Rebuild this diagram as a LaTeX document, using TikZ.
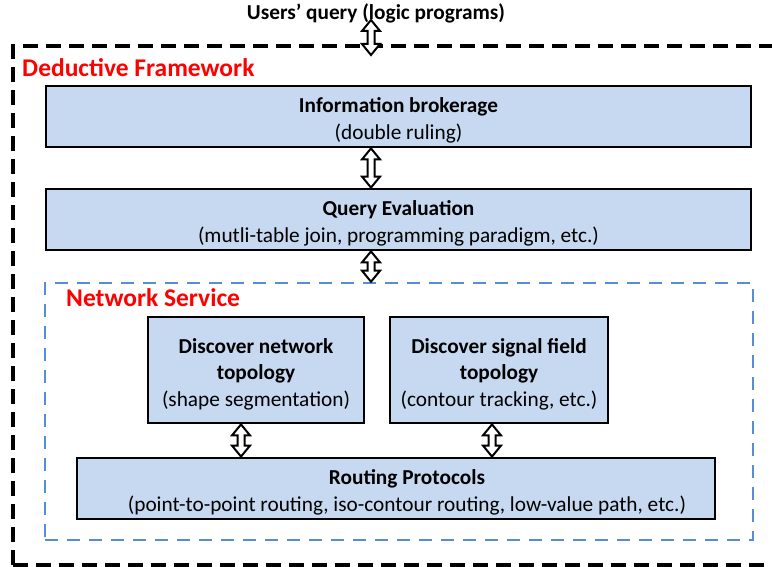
\documentclass[tikz,border=0pt]{standalone}
\usepackage{fontspec}
\setmainfont{Carlito}
\usetikzlibrary{calc}
\definecolor{boxfill}{HTML}{C6D9F1}
\definecolor{nsblue}{HTML}{558ED5}
\definecolor{labelred}{HTML}{FF0000}
\tikzset{
  layerbox/.style={draw=black, line width=2.8pt, fill=boxfill,
    inner sep=0pt, font=\fontsize{21.3}{26.8}\selectfont},
  framelabel/.style={text=labelred, font=\bfseries\fontsize{25.5}{30}\selectfont, anchor=west, inner sep=0pt},
  openarrow/.style={draw=black, fill=white, line width=2pt, line join=miter},
}
% centred lines of a box, set a little below the middle
\newcommand\boxlines[1]{\raisebox{-4.5pt}[\height][\depth]{\begin{tabular}{@{}c@{}}#1\end{tabular}}}
% hollow double-headed arrow at abscissa #1 between the points #2 (top) and #3 (bottom)
\newcommand\hollowarrow[3]{%
  \draw[openarrow] let \p1=(#2), \p2=(#3) in
    (#1pt,\y1) -- (#1pt+9pt,\y1-11pt) -- (#1pt+3.5pt,\y1-11pt) -- (#1pt+3.5pt,\y2+11pt)
    -- (#1pt+9pt,\y2+11pt) -- (#1pt,\y2) -- (#1pt-9pt,\y2+11pt) -- (#1pt-3.5pt,\y2+11pt)
    -- (#1pt-3.5pt,\y1-11pt) -- (#1pt-9pt,\y1-11pt) -- cycle;}
\begin{document}
\begin{tikzpicture}[x=1pt,y=-1pt]
\useasboundingbox (0,0) rectangle (772,567);

% outer deductive framework frame
\draw[black, line width=3.4pt, dash pattern=on 15pt off 8pt] (13,565) -- (13,46) -- (790,46);
\draw[black, line width=3.4pt, dash pattern=on 15pt off 8pt] (13,565) -- (790,565);
\node[framelabel] (dfl) at (22,68) {Deductive Framework};

% user query
\node[font=\bfseries\fontsize{21.3}{25}\selectfont, inner sep=0pt] (query) at (376,13) {Users’ query (logic programs)};
\coordinate (qtop) at (371,20);
\coordinate (qbot) at (371,55);

% upper layers
\node[layerbox, minimum width=705pt, minimum height=61pt] (ib) at (398.5,116.5)
  {\boxlines{\textbf{Information brokerage}\\(double ruling)}};
\node[layerbox, minimum width=705pt, minimum height=61pt] (qe) at (398.5,219.5)
  {\boxlines{\textbf{Query Evaluation}\\(mutli-table join, programming paradigm, etc.)}};

% network service frame
\node[draw=nsblue, line width=2.6pt, dash pattern=on 13pt off 9pt, minimum width=708pt,
  minimum height=257pt, inner sep=0pt] (ns) at (399,411.5) {};
\node[framelabel] (nsl) at (66,298) {Network Service};

\node[layerbox, minimum width=216pt, minimum height=106pt] (dnt) at (256,370)
  {\boxlines{\textbf{Discover network}\\\textbf{topology}\\(shape segmentation)}};
\node[layerbox, minimum width=218pt, minimum height=106pt] (dsf) at (499,370)
  {\boxlines{\textbf{Discover signal field}\\\textbf{topology}\\(contour tracking, etc.)}};
\node[layerbox, minimum width=638pt, minimum height=61pt] (rp) at (396,488.5)
  {\hspace*{22pt}\boxlines{\textbf{Routing Protocols}\\(point-to-point routing, iso-contour routing, low-value path, etc.)}};

% connectors
\hollowarrow{371}{qtop}{qbot}
\hollowarrow{371}{ib.south}{qe.north}
\hollowarrow{371}{qe.south}{ns.north}
\hollowarrow{241}{dnt.south}{rp.north}
\hollowarrow{492}{dsf.south}{rp.north}
\end{tikzpicture}
\end{document}
